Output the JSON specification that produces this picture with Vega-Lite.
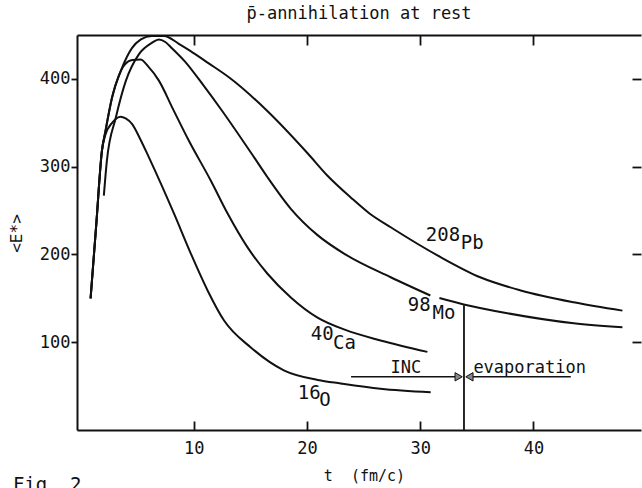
{
  "$schema": "https://vega.github.io/schema/vega-lite/v6.json",
  "width": 564,
  "height": 395,
  "autosize": "none",
  "padding": {"left": 77, "top": 35, "right": 1, "bottom": 58},
  "background": "white",
  "config": {
    "view": {"stroke": null},
    "font": "DejaVu Sans Mono",
    "axis": {
      "domainColor": "#111", "domainWidth": 2,
      "tickColor": "#111", "tickWidth": 1.8,
      "labelColor": "#111", "titleColor": "#111",
      "labelFont": "DejaVu Sans Mono", "titleFont": "DejaVu Sans Mono",
      "titleFontWeight": "normal", "grid": false
    }
  },
  "title": {
    "text": "p\u0304-annihilation at rest",
    "font": "DejaVu Sans Mono", "fontSize": 17, "fontWeight": "normal",
    "color": "#111", "anchor": "middle", "offset": -4, "baseline": "alphabetic"
  },
  "datasets": {
    "curves": [
      {"nucleus": "208Pb", "t": 0.9, "E": 150}, {"nucleus": "208Pb", "t": 1.4, "E": 234}, {"nucleus": "208Pb", "t": 1.9, "E": 318}, {"nucleus": "208Pb", "t": 2.22, "E": 341}, {"nucleus": "208Pb", "t": 2.78, "E": 378}, {"nucleus": "208Pb", "t": 3.66, "E": 412}, {"nucleus": "208Pb", "t": 4.55, "E": 435}, {"nucleus": "208Pb", "t": 5.34, "E": 445}, {"nucleus": "208Pb", "t": 6.3, "E": 449}, {"nucleus": "208Pb", "t": 7.4, "E": 449}, {"nucleus": "208Pb", "t": 8.69, "E": 440}, {"nucleus": "208Pb", "t": 9.7, "E": 432}, {"nucleus": "208Pb", "t": 11.3, "E": 418}, {"nucleus": "208Pb", "t": 13.2, "E": 401}, {"nucleus": "208Pb", "t": 16.46, "E": 364}, {"nucleus": "208Pb", "t": 20.08, "E": 315}, {"nucleus": "208Pb", "t": 21.8, "E": 290}, {"nucleus": "208Pb", "t": 23.87, "E": 265}, {"nucleus": "208Pb", "t": 25.5, "E": 247}, {"nucleus": "208Pb", "t": 27.4, "E": 231}, {"nucleus": "208Pb", "t": 31.8, "E": 197}, {"nucleus": "208Pb", "t": 35.3, "E": 174}, {"nucleus": "208Pb", "t": 38.88, "E": 159}, {"nucleus": "208Pb", "t": 43.56, "E": 145.5}, {"nucleus": "208Pb", "t": 47.86, "E": 136},
      {"nucleus": "98Mo", "t": 2.07, "E": 267}, {"nucleus": "98Mo", "t": 2.34, "E": 307}, {"nucleus": "98Mo", "t": 3.13, "E": 356}, {"nucleus": "98Mo", "t": 4.02, "E": 398}, {"nucleus": "98Mo", "t": 5.16, "E": 428}, {"nucleus": "98Mo", "t": 6.31, "E": 441}, {"nucleus": "98Mo", "t": 6.93, "E": 445}, {"nucleus": "98Mo", "t": 7.5, "E": 442}, {"nucleus": "98Mo", "t": 8.08, "E": 435}, {"nucleus": "98Mo", "t": 9.22, "E": 420}, {"nucleus": "98Mo", "t": 10.9, "E": 392}, {"nucleus": "98Mo", "t": 12.49, "E": 364}, {"nucleus": "98Mo", "t": 15.37, "E": 310}, {"nucleus": "98Mo", "t": 16.52, "E": 288}, {"nucleus": "98Mo", "t": 18.58, "E": 252}, {"nucleus": "98Mo", "t": 20.94, "E": 222}, {"nucleus": "98Mo", "t": 23.4, "E": 200}, {"nucleus": "98Mo", "t": 27.4, "E": 174}, {"nucleus": "98Mo", "t": 30.9, "E": 153.2},
      {"nucleus": "98Mo (after gap)", "t": 31.7, "E": 150.3}, {"nucleus": "98Mo (after gap)", "t": 33.85, "E": 143}, {"nucleus": "98Mo (after gap)", "t": 37.7, "E": 133}, {"nucleus": "98Mo (after gap)", "t": 43.56, "E": 121.6}, {"nucleus": "98Mo (after gap)", "t": 47.86, "E": 117},
      {"nucleus": "40Ca", "t": 0.9, "E": 150}, {"nucleus": "40Ca", "t": 1.4, "E": 234}, {"nucleus": "40Ca", "t": 1.9, "E": 318}, {"nucleus": "40Ca", "t": 2.22, "E": 341}, {"nucleus": "40Ca", "t": 2.78, "E": 378}, {"nucleus": "40Ca", "t": 3.4, "E": 404}, {"nucleus": "40Ca", "t": 3.9, "E": 416}, {"nucleus": "40Ca", "t": 4.6, "E": 421.5}, {"nucleus": "40Ca", "t": 5.3, "E": 422}, {"nucleus": "40Ca", "t": 6.0, "E": 414}, {"nucleus": "40Ca", "t": 6.93, "E": 398}, {"nucleus": "40Ca", "t": 8.2, "E": 365}, {"nucleus": "40Ca", "t": 9.58, "E": 329.5}, {"nucleus": "40Ca", "t": 11.52, "E": 284}, {"nucleus": "40Ca", "t": 13.0, "E": 246.6}, {"nucleus": "40Ca", "t": 14.76, "E": 208}, {"nucleus": "40Ca", "t": 16.52, "E": 178}, {"nucleus": "40Ca", "t": 18.58, "E": 151}, {"nucleus": "40Ca", "t": 20.94, "E": 128}, {"nucleus": "40Ca", "t": 23.4, "E": 114}, {"nucleus": "40Ca", "t": 26.5, "E": 102}, {"nucleus": "40Ca", "t": 30.64, "E": 89},
      {"nucleus": "16O", "t": 0.9, "E": 150}, {"nucleus": "16O", "t": 1.4, "E": 234}, {"nucleus": "16O", "t": 1.9, "E": 318}, {"nucleus": "16O", "t": 2.2, "E": 336}, {"nucleus": "16O", "t": 2.8, "E": 350}, {"nucleus": "16O", "t": 3.55, "E": 357}, {"nucleus": "16O", "t": 4.0, "E": 355}, {"nucleus": "16O", "t": 4.57, "E": 348.5}, {"nucleus": "16O", "t": 5.3, "E": 331}, {"nucleus": "16O", "t": 6.05, "E": 310.6}, {"nucleus": "16O", "t": 8.25, "E": 247}, {"nucleus": "16O", "t": 9.75, "E": 201}, {"nucleus": "16O", "t": 11.23, "E": 159}, {"nucleus": "16O", "t": 12.67, "E": 125}, {"nucleus": "16O", "t": 15.05, "E": 94}, {"nucleus": "16O", "t": 17.96, "E": 68}, {"nucleus": "16O", "t": 20.96, "E": 57}, {"nucleus": "16O", "t": 22.99, "E": 53}, {"nucleus": "16O", "t": 26.5, "E": 47}, {"nucleus": "16O", "t": 30.93, "E": 43}
    ],
    "boundary": [{"t": 33.87, "E": 0, "E2": 142}],
    "shafts": [{"t": 23.9, "t2": 33.5, "E": 60.6}, {"t": 34.2, "t2": 43.3, "E": 60.6}],
    "heads": [{"t": 33.4, "E": 60.6, "dir": "right"}, {"t": 34.35, "E": 60.6, "dir": "left"}],
    "isotopes": [
      {"label": "208", "t": 30.5, "E": 222.7}, {"label": "Pb", "t": 33.58, "E": 212.5},
      {"label": "98", "t": 28.9, "E": 142}, {"label": "Mo", "t": 31.1, "E": 133.5},
      {"label": "40", "t": 20.35, "E": 109.7}, {"label": "Ca", "t": 22.3, "E": 99.4},
      {"label": "16", "t": 19.2, "E": 42.6}, {"label": "O", "t": 21.1, "E": 34.7}
    ],
    "notes": [{"label": "INC", "t": 28.73, "E": 65}, {"label": "evaporation", "t": 39.67, "E": 65}],
    "fig": [{"label": "Fig. 2", "t": -5.96, "E": -69.3}]
  },
  "layer": [
    {
      "data": {"name": "curves"},
      "mark": {"type": "line", "color": "#111", "strokeWidth": 2, "interpolate": "monotone"},
      "encoding": {
        "x": {"field": "t", "type": "quantitative",
              "scale": {"domain": [-0.3, 49.5], "nice": false, "zero": false},
              "axis": {"orient": "bottom", "values": [10, 20, 30, 40], "tickSize": -9, "labelPadding": 19, "labelFontSize": 17,
                       "title": "t\u00a0\u00a0(fm/c)", "titleFontSize": 15, "titleX": 287, "titleY": 45, "titleBaseline": "middle", "titleAlign": "center"}},
        "y": {"field": "E", "type": "quantitative",
              "scale": {"domain": [0, 450], "nice": false, "zero": false},
              "axis": {"orient": "left", "values": [100, 200, 300, 400], "tickSize": 6, "labelPadding": 1, "labelFontSize": 17,
                       "title": "<E*>", "titleFontSize": 16, "titleX": -61, "titleY": 198, "titleBaseline": "middle", "titleAlign": "center"}},
        "detail": {"field": "nucleus"}
      }
    },
    {
      "data": {"name": "boundary"},
      "mark": {"type": "rule", "color": "#111", "strokeWidth": 1.8},
      "encoding": {
        "x": {"field": "t", "type": "quantitative",
              "scale": {"domain": [-0.3, 49.5], "nice": false, "zero": false},
              "axis": {"orient": "top", "values": [10, 20, 30, 40], "tickSize": -10, "labels": false, "title": null}},
        "y": {"field": "E", "type": "quantitative",
              "scale": {"domain": [0, 450], "nice": false, "zero": false},
              "axis": {"orient": "right", "values": [100, 200, 300, 400], "tickSize": -9, "labels": false, "domain": false, "title": null}},
        "y2": {"field": "E2"}
      }
    },
    {
      "data": {"name": "shafts"},
      "mark": {"type": "rule", "color": "#111", "strokeWidth": 1.6},
      "encoding": {
        "x": {"field": "t", "type": "quantitative", "scale": {"domain": [-0.3, 49.5], "nice": false, "zero": false}, "axis": null},
        "x2": {"field": "t2"},
        "y": {"field": "E", "type": "quantitative", "scale": {"domain": [0, 450], "nice": false, "zero": false}, "axis": null}
      }
    },
    {
      "data": {"name": "heads"},
      "mark": {"type": "point", "filled": true, "fill": "#888", "stroke": "#111", "strokeWidth": 1, "size": 70, "opacity": 1},
      "encoding": {
        "x": {"field": "t", "type": "quantitative", "scale": {"domain": [-0.3, 49.5], "nice": false, "zero": false}, "axis": null},
        "y": {"field": "E", "type": "quantitative", "scale": {"domain": [0, 450], "nice": false, "zero": false}, "axis": null},
        "shape": {"field": "dir", "type": "nominal", "scale": {"domain": ["right", "left"], "range": ["triangle-right", "triangle-left"]}, "legend": null}
      }
    },
    {
      "data": {"name": "isotopes"},
      "mark": {"type": "text", "font": "DejaVu Sans Mono", "fontSize": 19, "color": "#111", "align": "left", "baseline": "middle"},
      "encoding": {
        "x": {"field": "t", "type": "quantitative", "scale": {"domain": [-0.3, 49.5], "nice": false, "zero": false}, "axis": null},
        "y": {"field": "E", "type": "quantitative", "scale": {"domain": [0, 450], "nice": false, "zero": false}, "axis": null},
        "text": {"field": "label"}
      }
    },
    {
      "data": {"name": "notes"},
      "mark": {"type": "text", "font": "DejaVu Sans Mono", "fontSize": 17, "color": "#111", "align": "center", "baseline": "alphabetic"},
      "encoding": {
        "x": {"field": "t", "type": "quantitative", "scale": {"domain": [-0.3, 49.5], "nice": false, "zero": false}, "axis": null},
        "y": {"field": "E", "type": "quantitative", "scale": {"domain": [0, 450], "nice": false, "zero": false}, "axis": null},
        "text": {"field": "label"}
      }
    },
    {
      "data": {"name": "fig"},
      "mark": {"type": "text", "font": "DejaVu Sans Mono", "fontSize": 19, "color": "#111", "align": "left", "baseline": "alphabetic"},
      "encoding": {
        "x": {"field": "t", "type": "quantitative", "scale": {"domain": [-0.3, 49.5], "nice": false, "zero": false}, "axis": null},
        "y": {"field": "E", "type": "quantitative", "scale": {"domain": [0, 450], "nice": false, "zero": false}, "axis": null},
        "text": {"field": "label"}
      }
    }
  ],
  "resolve": {"axis": {"x": "independent", "y": "independent"}}
}
